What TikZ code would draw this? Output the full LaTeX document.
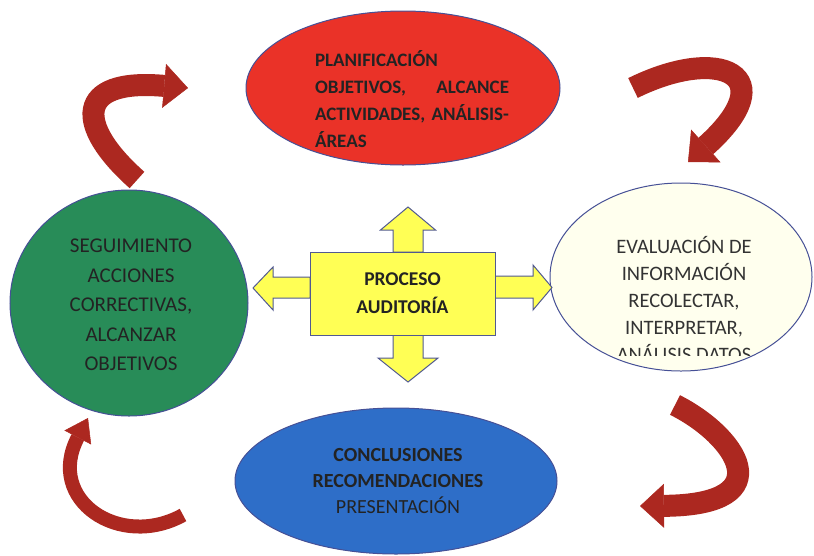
\documentclass[tikz,border=0pt]{standalone}
\usepackage{fontspec}
\setmainfont{Carlito}
\usetikzlibrary{shapes.geometric,arrows.meta,calc}

\definecolor{planred}{RGB}{234,50,40}
\definecolor{seggreen}{RGB}{40,140,88}
\definecolor{concblue}{RGB}{46,110,200}
\definecolor{evalcream}{RGB}{255,255,238}
\definecolor{boxyellow}{RGB}{255,255,85}
\definecolor{curlred}{RGB}{172,40,32}
\definecolor{edgeblue}{RGB}{70,80,150}
\definecolor{inkgray}{RGB}{35,35,35}

\begin{document}
\begin{tikzpicture}[x=1pt,y=-1pt,
	bubble/.style={ellipse,draw=edgeblue,line width=1pt,inner sep=0pt},
	txt/.style={align=center,text=inkgray,font=\fontsize{20.5}{27}\selectfont},
	yarrow/.style={fill=boxyellow,draw=edgeblue!80!gray,line width=1pt,line join=miter},
	curly/.style={draw=curlred,line width=22pt,-{Triangle[width=44pt,length=24pt,line width=0.5pt]}}]
	\useasboundingbox (0,0) rectangle (814,555);
	% the four stages
	\node[bubble,fill=planred,minimum width=314pt,minimum height=154pt] (plan) at (403,88) {};
	\node[bubble,fill=seggreen,minimum width=238pt,minimum height=226pt] (seg) at (129,303) {};
	\node[bubble,fill=evalcream,minimum width=262pt,minimum height=188pt] (eval) at (681,277) {};
	\node[bubble,fill=concblue,minimum width=322pt,minimum height=146pt] (conc) at (396,481) {};
	\node[txt,align=left,text width=194pt,font=\fontsize{19}{27}\selectfont\bfseries] (plantxt) at (412,99)
		{PLANIFICACIÓN\\ OBJETIVOS,\hfill ALCANCE\\ ACTIVIDADES, ANÁLISIS-\\ ÁREAS};
	\node[txt,font=\fontsize{21}{29.5}\selectfont] (segtxt) at (131,305)
		{SEGUIMIENTO\\ ACCIONES\\ CORRECTIVAS,\\ ALCANZAR\\ OBJETIVOS};
	\begin{scope}
		\clip (540,180) rectangle (814,355);
		\node[txt,text=black!80] (evaltxt) at (684,299)
			{EVALUACIÓN DE\\ INFORMACIÓN\\ RECOLECTAR,\\ INTERPRETAR,\\ ANÁLISIS DATOS};
	\end{scope}
	\node[txt,font=\fontsize{20}{26}\selectfont] (conctxt) at (398,481)
		{\textbf{CONCLUSIONES}\\ \textbf{RECOMENDACIONES}\\ PRESENTACIÓN};
	% centre box and its four arrows
	\coordinate (boxc) at (402.5,293.5);
	\draw[yarrow] ($(boxc)+(-9.5,-41.5)$) -- ++(0,-22) -- ++(-12.5,0) -- ++(27.5,-23) -- ++(27.5,23) -- ++(-12.5,0) -- ++(0,22) -- cycle;
	\draw[yarrow] ($(boxc)+(-9.5,41.5)$) -- ++(0,23) -- ++(-15,0) -- ++(30,24) -- ++(30,-24) -- ++(-15,0) -- ++(0,-23) -- cycle;
	\draw[yarrow] ($(boxc)+(-92.5,-16.5)$) -- ++(-37,0) -- ++(0,-10) -- ++(-20,21) -- ++(20,22) -- ++(0,-12) -- ++(37,0) -- cycle;
	\draw[yarrow] ($(boxc)+(92.5,-17.5)$) -- ++(38,0) -- ++(0,-11) -- ++(19,22.5) -- ++(-19,22.5) -- ++(0,-12) -- ++(-38,0) -- cycle;
	\node[draw=edgeblue!80!gray,fill=boxyellow,line width=1pt,minimum width=185pt,minimum height=83pt,
		txt,font=\fontsize{19.5}{28}\selectfont\bfseries] (proc) at (boxc) {PROCESO\\ AUDITORÍA};
	% curved arrows of the cycle
	\coordinate (c1s) at (137,180);
	\coordinate (c1e) at (188,88);
	\coordinate (c2s) at (633,88);
	\coordinate (c2e) at (688,162);
	\coordinate (c3s) at (675,405);
	\coordinate (c3e) at (640,506);
	\coordinate (c4s) at (183,515);
	\coordinate (c4e) at (88,418);
	\draw[curly] (c1s) .. controls (75,125) and (75,78) .. (c1e);
	\draw[curly] (c2s) .. controls (720,45) and (785,75) .. (c2e);
	\draw[curly] (c3s) .. controls (735,435) and (785,505) .. (c3e);
	\draw[curly,line width=14pt,-{Triangle[width=30pt,length=22pt,line width=0.5pt]}] (c4s) .. controls (120,550) and (45,500) .. (c4e);
\end{tikzpicture}
\end{document}
